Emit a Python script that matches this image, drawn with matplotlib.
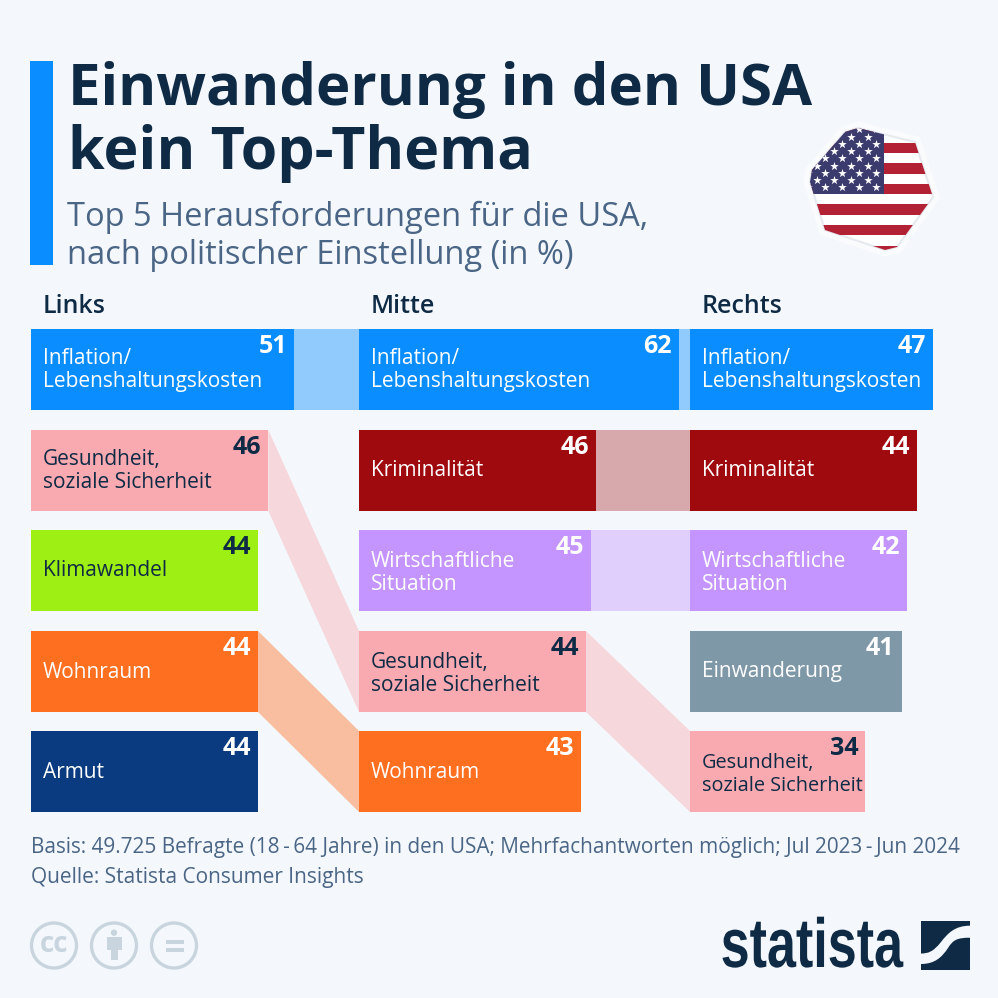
import matplotlib
matplotlib.use("Agg")
import matplotlib.pyplot as plt
from matplotlib.patches import Circle, Polygon, PathPatch, Rectangle
from matplotlib.path import Path
from matplotlib.patheffects import AbstractPathEffect
from matplotlib.transforms import Affine2D

plt.rcParams["font.family"] = ["Open Sans", "DejaVu Sans"]

TITLE_LINES = ["Einwanderung in den USA", "kein Top-Thema"]
SUBTITLE = "Top 5 Herausforderungen für die USA,\nnach politischer Einstellung (in %)"
FOOTER_1 = "Basis: 49.725 Befragte (18\u2009-\u200964 Jahre) in den USA; Mehrfachantworten möglich; Jul 2023\u2009-\u2009Jun 2024"
FOOTER_2 = "Quelle: Statista Consumer Insights"

GROUPS = ["Links", "Mitte", "Rechts"]
LINKS_TOPICS = ["Inflation", "Gesundheit", "Klima", "Wohnraum", "Armut"]
LINKS_VALUES = [51, 46, 44, 44, 44]
MITTE_TOPICS = ["Inflation", "Kriminalitaet", "Wirtschaft", "Gesundheit", "Wohnraum"]
MITTE_VALUES = [62, 46, 45, 44, 43]
RECHTS_TOPICS = ["Inflation", "Kriminalitaet", "Wirtschaft", "Einwanderung", "Gesundheit"]
RECHTS_VALUES = [47, 44, 42, 41, 34]

TOPIC_LABELS = {
    "Inflation": ["Inflation/", "Lebenshaltungskosten"],
    "Gesundheit": ["Gesundheit,", "soziale Sicherheit"],
    "Klima": ["Klimawandel"],
    "Wohnraum": ["Wohnraum"],
    "Armut": ["Armut"],
    "Kriminalitaet": ["Kriminalität"],
    "Wirtschaft": ["Wirtschaftliche", "Situation"],
    "Einwanderung": ["Einwanderung"],
}
TOPIC_COLORS = {
    "Inflation": "#0a8dff",
    "Gesundheit": "#f8aab0",
    "Klima": "#9eef14",
    "Wohnraum": "#ff6f20",
    "Armut": "#0a3a80",
    "Kriminalitaet": "#9e0a0e",
    "Wirtschaft": "#c595ff",
    "Einwanderung": "#7f98a8",
}
DARK_TEXT = ["Gesundheit", "Klima"]

BG = "#f4f8fc"
NAVY = "#0f2a45"
GREY_BLUE = "#4a6585"
ICON = "#c8d5de"

COL_X = [31, 359, 690]
ROW_Y = [329, 430, 530, 631, 731]
ROW_H = 81
PX_PER_PCT = 5.16


class SqueezeX(AbstractPathEffect):
    # the logo lettering is condensed, no narrow bold font is installed
    def __init__(self, factor, anchor):
        super().__init__()
        self.squeeze = Affine2D().translate(-anchor, 0).scale(factor, 1).translate(anchor, 0)

    def draw_path(self, renderer, gc, tpath, affine, rgbFace=None):
        renderer.draw_path(gc, tpath, affine + self.squeeze, rgbFace)


fig = plt.figure(figsize=(9.98, 9.98), dpi=100, facecolor=BG)
ax = fig.add_axes([0, 0, 1, 1])
ax.set_xlim(0, 998)
ax.set_ylim(998, 0)
ax.axis("off")

# Header
ax.add_patch(Rectangle((30, 61), 23, 204, color="#0a8dff", lw=0))
ax.text(68, 105, TITLE_LINES[0], fontsize=41.9, fontweight="bold", color=NAVY, va="baseline")
ax.text(68, 169, TITLE_LINES[1], fontsize=42.6, fontweight="bold", color=NAVY, va="baseline")
ax.text(67, 236, SUBTITLE, fontsize=23.5, color=GREY_BLUE, va="center", linespacing=1.2)

# Bars, one column per political group
columns = [
    (LINKS_TOPICS, LINKS_VALUES),
    (MITTE_TOPICS, MITTE_VALUES),
    (RECHTS_TOPICS, RECHTS_VALUES),
]
for i, (topics, values) in enumerate(columns):
    x0 = COL_X[i]
    ax.text(x0 + 12, 306.5, GROUPS[i], fontsize=18, fontweight="semibold", color=NAVY, va="center")
    for r, (topic, val) in enumerate(zip(topics, values)):
        width = val * PX_PER_PCT
        center = ROW_Y[r] + ROW_H / 2
        ax.barh(center, width, left=x0, height=ROW_H, color=TOPIC_COLORS[topic], lw=0, zorder=3)
        txt = NAVY if topic in DARK_TEXT else "white"
        size = 14.3 if i == 2 and topic == "Gesundheit" else 15
        lines = TOPIC_LABELS[topic]
        shift = 2 if len(lines) == 2 and r >= 2 else 0
        for j, line in enumerate(lines):
            ax.text(x0 + 12, center + 6 + shift + (j - (len(lines) - 1) / 2) * 23, line, fontsize=size, color=txt,
                    va="baseline", zorder=4)
        ax.text(x0 + width - 7, ROW_Y[r] + 24, str(val), fontsize=18, fontweight="bold", color=txt,
                ha="right", va="baseline", zorder=4)
        # Connector to the same topic in the next column
        if i < 2 and topic in columns[i + 1][0]:
            r2 = columns[i + 1][0].index(topic)
            x1 = x0 + width
            x2 = COL_X[i + 1]
            alpha = 0.33 if topic == "Kriminalitaet" else 0.42
            ax.add_patch(Polygon([(x1, ROW_Y[r]), (x2, ROW_Y[r2]), (x2, ROW_Y[r2] + ROW_H), (x1, ROW_Y[r] + ROW_H)],
                                 color=TOPIC_COLORS[topic], alpha=alpha, lw=0, zorder=2))

# Footer
ax.text(31, 847, FOOTER_1, fontsize=14.97, color=GREY_BLUE, va="center")
ax.text(31, 878, FOOTER_2, fontsize=15, color=GREY_BLUE, va="center")

# Flag
outline = [(845, 132), (858, 128), (915, 142), (933, 197), (897, 247), (885, 250), (825, 230), (810, 182), (812, 170)]
ax.add_patch(Polygon(outline, closed=True, fc="#f9fbfd", ec="#f9fbfd", lw=9, zorder=4))
ax.add_patch(Polygon(outline, closed=True, fc="white", ec="#e6eaef", lw=1.5, zorder=5))
clip = Polygon(outline, closed=True, transform=ax.transData)
STRIPE = 10.3
for s in range(13):
    if s % 2 == 0:
        stripe = ax.add_patch(Rectangle((800, 122 + s * STRIPE), 140, STRIPE, fc="#b22234", lw=0, zorder=6))
        stripe.set_clip_path(clip)
canton = ax.add_patch(Rectangle((800, 122), 84, 7 * STRIPE, fc="#3c3b6e", lw=0, zorder=7))
canton.set_clip_path(clip)
star_x = []
star_y = []
for row in range(9):
    count, start = (5, 808) if row % 2 == 0 else (4, 816.7)
    for col in range(count):
        star_x.append(start + col * 17)
        star_y.append(129.3 + row * 7.25)
stars = ax.scatter(star_x, star_y, marker="*", s=42, color="white", lw=0, zorder=8)
stars.set_clip_path(clip)

# Licence icons
for cx in [54, 114, 174]:
    ax.add_patch(Circle((cx, 945.5), 22.5, fc="none", ec=ICON, lw=2.4))
ax.text(54, 944, "cc", fontsize=20, fontweight="bold", color=ICON, ha="center", va="center")
ax.add_patch(Circle((114, 932.7), 3.2, fc=ICON, lw=0))
ax.add_patch(Rectangle((107.3, 936.7), 14.4, 13.3, fc=ICON, lw=0))
ax.add_patch(Rectangle((110.7, 950), 7.6, 10, fc=ICON, lw=0))
ax.add_patch(Rectangle((165.7, 940), 18.3, 4, fc=ICON, lw=0))
ax.add_patch(Rectangle((165.7, 947.7), 18.3, 4, fc=ICON, lw=0))

# Statista logo
ax.text(903, 949, "statista", fontsize=50, fontweight="bold", color=NAVY, ha="right", va="center",
        family=["Liberation Sans", "DejaVu Sans"], path_effects=[SqueezeX(0.75, 903)])
ax.add_patch(Rectangle((921, 921), 49, 48.5, fc=NAVY, lw=0))
swoosh = Path(
    [(970, 925.7), (955, 925.7), (948, 933), (941, 942), (933, 952), (928, 953.5), (921, 953.5),
     (921, 964),
     (935, 964), (942, 957), (948, 948), (953, 940), (957, 937.7), (970, 937.7),
     (970, 925.7)],
    [Path.MOVETO, Path.CURVE4, Path.CURVE4, Path.CURVE4, Path.CURVE4, Path.CURVE4, Path.CURVE4,
     Path.LINETO,
     Path.CURVE4, Path.CURVE4, Path.CURVE4, Path.CURVE4, Path.CURVE4, Path.CURVE4,
     Path.LINETO],
)
ax.add_patch(PathPatch(swoosh, fc=BG, lw=0))

fig.savefig("out.png", dpi=100, facecolor=BG)
